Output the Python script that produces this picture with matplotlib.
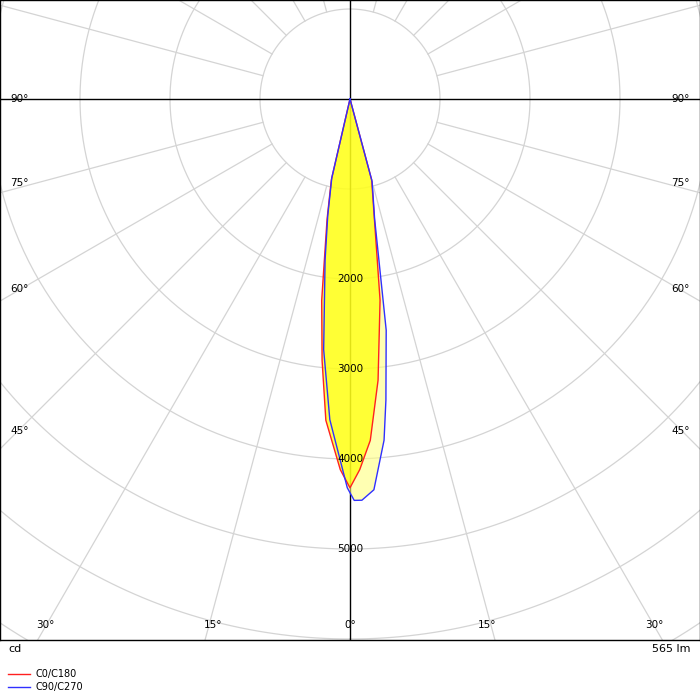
import numpy as np
import matplotlib.pyplot as plt
from matplotlib.lines import Line2D

# data: angle (deg, 0 = down), intensity (cd)
red_ang = [-90, -20, -13, -10.8, -8, -6.1, -4.3, -1.5, 0, 1.5, 3.4, 5.7, 8.5, 11.5, 15, 20, 90]
red_cd  = [0, 0, 920, 1360, 2260, 2920, 3580, 4120, 4320, 4120, 3800, 3140, 2260, 1360, 930, 0, 0]
blue_ang = [-90, -20, -13, -10.8, -8.8, -6.0, -3.6, -0.4, 0.6, 1.7, 3.5, 5.7, 6.8, 8.9, 11.6, 15, 20, 90]
blue_cd  = [0, 0, 900, 1320, 1810, 2800, 3570, 4320, 4460, 4460, 4350, 3810, 3370, 2600, 1360, 950, 0, 0]
ring_vals = [1000, 2000, 3000, 4000, 5000, 6000, 7000, 8000, 9000]
ring_labels = [2000, 3000, 4000, 5000]
side_angles = [45, 60, 75, 90]
bottom_angles = [0, 15, 30]

S = 90 / 1000.0  # px per cd
fig = plt.figure(figsize=(7, 7), dpi=100)
ax = fig.add_axes([0, 60/700, 1, 640/700])
ax.set_xlim(-350, 350); ax.set_ylim(541, -99)
ax.set_xticks([]); ax.set_yticks([])
for s in ax.spines.values():
    s.set_color('black'); s.set_linewidth(1)

t = np.linspace(0, 2*np.pi, 400)
for r in ring_vals:
    ax.plot(r*S*np.sin(t), r*S*np.cos(t), color='#d4d4d4', lw=0.9, zorder=1)
r0 = ring_vals[0]*S
for a in range(0, 360, 15):
    if a % 90 == 0: continue
    th = np.radians(a)
    ax.plot([r0*np.sin(th), 1200*np.sin(th)], [r0*np.cos(th), 1200*np.cos(th)],
            color='#d4d4d4', lw=0.9, zorder=1)
ax.axhline(0, color='black', lw=1, zorder=2)
ax.axvline(0, color='black', lw=1, zorder=2)

def xy(ang, cd):
    th = np.radians(ang); r = np.array(cd)*S
    return r*np.sin(th), r*np.cos(th)

bx, by = xy(blue_ang, blue_cd)
rx, ry = xy(red_ang, red_cd)
ax.fill(bx, by, color='#ffff80', alpha=0.6, zorder=3, lw=0)
ax.fill(rx, ry, color='#ffff00', alpha=0.7, zorder=3, lw=0)
ax.plot(rx, ry, color='#ff2020', lw=1, zorder=4)
ax.plot(bx, by, color='#3030ff', lw=1, zorder=4)

for v in ring_labels:
    ax.text(0, v*S, str(v), ha='center', va='center', fontsize=7.5, zorder=5)
for a in side_angles:
    y = 350/np.tan(np.radians(a + 1.5)) if a != 90 else 0
    ax.text(-340, y, f"{a}°", ha='left', va='center', fontsize=7.5)
    ax.text(340, y, f"{a}°", ha='right', va='center', fontsize=7.5)
for a in bottom_angles:
    x = 541*np.tan(np.radians(a)) - (0 if a == 0 else 8)
    for sx in ([1] if a == 0 else [-1, 1]):
        ax.text(sx*x, 526, f"{a}°", ha='center', va='center', fontsize=7.5)

fig.text(8/700, 1-649/700, "cd", fontsize=8, va='center')
fig.text(690/700, 1-649/700, "565 lm", fontsize=8, va='center', ha='right')
fig.add_artist(Line2D([8/700, 30/700], [1-674/700]*2, color='#ff2020', lw=1))
fig.add_artist(Line2D([8/700, 30/700], [1-687/700]*2, color='#3030ff', lw=1))
fig.text(36/700, 1-674/700, "C0/C180", fontsize=7, va='center')
fig.text(36/700, 1-687/700, "C90/C270", fontsize=7, va='center')
fig.savefig("out.png", dpi=100)
